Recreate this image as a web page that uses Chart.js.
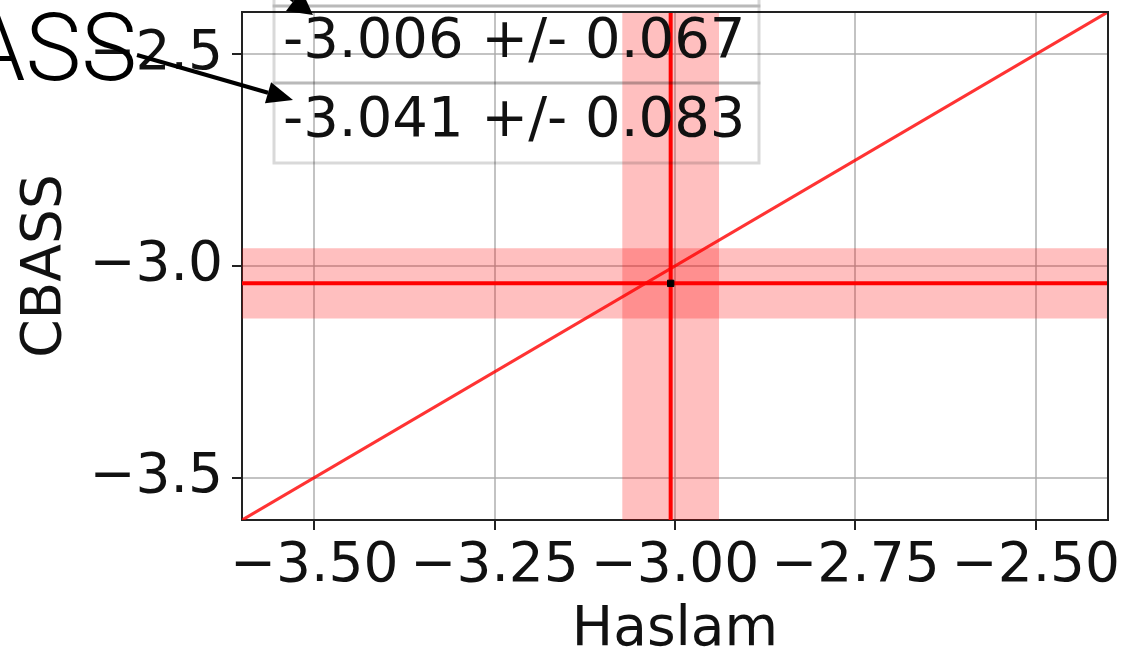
<!DOCTYPE html>
<html>
<head>
<meta charset="utf-8">
<script src="https://cdn.jsdelivr.net/npm/chart.js@4.4.1/dist/chart.umd.min.js"></script>
<style>
  html, body { margin: 0; padding: 0; background: #fff; }
  #wrap { width: 1122px; height: 656px; position: relative; }
</style>
</head>
<body>
<div id="wrap"><canvas id="myChart"></canvas></div>
<script>
const axisRange = [-3.6, -2.4];
const xTicks = [-3.5, -3.25, -3.0, -2.75, -2.5];
const yTicks = [-3.5, -3.0, -2.5];
const haslam = [-3.006];
const haslamErr = [0.067];
const cbass = [-3.041];
const cbassErr = [0.083];
const xTitle = 'Haslam';
const yTitle = 'CBASS';
const tableRows = [
    haslam[0].toFixed(3) + ' +/- ' + haslamErr[0].toFixed(3),
    cbass[0].toFixed(3) + ' +/- ' + cbassErr[0].toFixed(3)
];

const lo = axisRange[0], hi = axisRange[1];
const hx = haslam[0], hxe = haslamErr[0], cy = cbass[0], cye = cbassErr[0];
const minus = s => s.replace('-', '\u2212');
const tickFont = { family: 'DejaVu Sans', size: 55 };
const titleFont = { family: 'DejaVu Sans', size: 55 };
const gridc = 'rgba(170, 170, 170, 0.7)';
const spine = '#222';
const band = 'rgba(255, 0, 0, 0.25)';

function arrow(ctx, x0, y0, x1, y1, head, half) {
    const dx = x1 - x0, dy = y1 - y0, len = Math.hypot(dx, dy);
    const ux = dx / len, uy = dy / len;
    const bx = x1 - ux * head, by = y1 - uy * head;
    ctx.beginPath();
    ctx.moveTo(x0, y0);
    ctx.lineTo(bx, by);
    ctx.lineWidth = 4;
    ctx.strokeStyle = '#000';
    ctx.stroke();
    ctx.beginPath();
    ctx.moveTo(x1, y1);
    ctx.lineTo(bx - uy * half, by + ux * half);
    ctx.lineTo(bx + uy * half, by - ux * half);
    ctx.closePath();
    ctx.fillStyle = '#000';
    ctx.fill();
}

const extras = {
    id: 'extras',
    afterDraw(chart) {
        const ctx = chart.ctx, a = chart.chartArea;
        ctx.save();
        // top + right spines
        ctx.strokeStyle = spine;
        ctx.lineWidth = 2;
        ctx.beginPath();
        ctx.moveTo(a.left, a.top);
        ctx.lineTo(a.right, a.top);
        ctx.lineTo(a.right, a.bottom);
        ctx.stroke();

        // value table
        const tx0 = 274, tx1 = 759, rowsY = [6, 83, 163];
        ctx.strokeStyle = 'rgba(0, 0, 0, 0.15)';
        ctx.lineWidth = 3;
        ctx.strokeRect(tx0, -40, tx1 - tx0, rowsY[0] + 40);
        for (let i = 0; i < tableRows.length; i++) {
            ctx.strokeRect(tx0, rowsY[i], tx1 - tx0, rowsY[i + 1] - rowsY[i]);
        }
        ctx.fillStyle = '#111';
        ctx.font = '56px "DejaVu Sans"';
        ctx.textAlign = 'left';
        ctx.textBaseline = 'middle';
        tableRows.forEach((t, i) => {
            ctx.fillText(t, 283, (rowsY[i] + rowsY[i + 1]) / 2 - 2);
        });

        // clipped annotation label and arrows
        ctx.font = '300 94px Roboto, "Liberation Sans"';
        ctx.textAlign = 'right';
        ctx.textBaseline = 'alphabetic';
        ctx.fillStyle = '#000';
        ctx.fillText('CBASS', 137, 80);
        arrow(ctx, 137, 55, 293, 100, 26, 11);
        arrow(ctx, 200, -70, 313, 15, 24, 13);
        ctx.restore();
    }
};

new Chart(document.getElementById('myChart'), {
    type: 'scatter',
    data: {
        datasets: [
            {
                data: [{ x: hx, y: cy }],
                pointStyle: 'rect',
                pointRadius: 4.5,
                backgroundColor: '#000',
                borderColor: '#000',
                order: 0
            },
            {
                data: [{ x: hx, y: lo }, { x: hx, y: hi }],
                showLine: true,
                borderColor: '#ff0000',
                borderWidth: 4,
                pointRadius: 0,
                order: 1
            },
            {
                data: [{ x: lo, y: cy }, { x: hi, y: cy }],
                showLine: true,
                borderColor: '#ff0000',
                borderWidth: 4,
                pointRadius: 0,
                order: 2
            },
            {
                data: [{ x: lo, y: lo }, { x: hi, y: hi }],
                showLine: true,
                borderColor: 'rgba(255, 0, 0, 0.8)',
                borderWidth: 3.2,
                pointRadius: 0,
                order: 3
            },
            {
                data: [{ x: hx - hxe, y: lo }, { x: hx - hxe, y: hi }, { x: hx + hxe, y: hi }, { x: hx + hxe, y: lo }],
                showLine: true,
                fill: 'shape',
                backgroundColor: band,
                borderWidth: 0,
                pointRadius: 0,
                order: 4
            },
            {
                data: [{ x: lo, y: cy - cye }, { x: hi, y: cy - cye }, { x: hi, y: cy + cye }, { x: lo, y: cy + cye }],
                showLine: true,
                fill: 'shape',
                backgroundColor: band,
                borderWidth: 0,
                pointRadius: 0,
                order: 5
            }
        ]
    },
    options: {
        responsive: true,
        maintainAspectRatio: false,
        animation: false,
        layout: { padding: { top: 12, right: 14, left: 0, bottom: 0 } },
        scales: {
            x: {
                type: 'linear',
                min: lo,
                max: hi,
                afterBuildTicks: s => { s.ticks = xTicks.map(v => ({ value: v })); },
                afterFit: s => { s.height = 136; s.paddingLeft = 0; s.paddingRight = 0; },
                grid: { color: gridc, lineWidth: 2, tickLength: 10, tickColor: spine, tickWidth: 2 },
                border: { color: spine, width: 2 },
                ticks: {
                    font: tickFont,
                    color: '#111',
                    padding: 4,
                    maxRotation: 0,
                    autoSkip: false,
                    callback: v => minus(v.toFixed(2))
                },
                title: { display: true, text: xTitle, font: titleFont, color: '#111', padding: { top: 0, bottom: -8 } }
            },
            y: {
                type: 'linear',
                min: lo,
                max: hi,
                afterBuildTicks: s => { s.ticks = yTicks.map(v => ({ value: v })); },
                afterFit: s => { s.width = 242; s.paddingTop = 0; s.paddingBottom = 0; },
                grid: { color: gridc, lineWidth: 2, tickLength: 10, tickColor: spine, tickWidth: 2 },
                border: { color: spine, width: 2 },
                ticks: {
                    font: tickFont,
                    color: '#111',
                    padding: 9,
                    autoSkip: false,
                    callback: v => minus(v.toFixed(1))
                },
                title: { display: true, text: yTitle, font: titleFont, color: '#111', padding: { top: 13, bottom: 0 } }
            }
        },
        plugins: {
            legend: { display: false },
            tooltip: { enabled: false }
        }
    },
    plugins: [extras]
});
</script>
</body>
</html>
